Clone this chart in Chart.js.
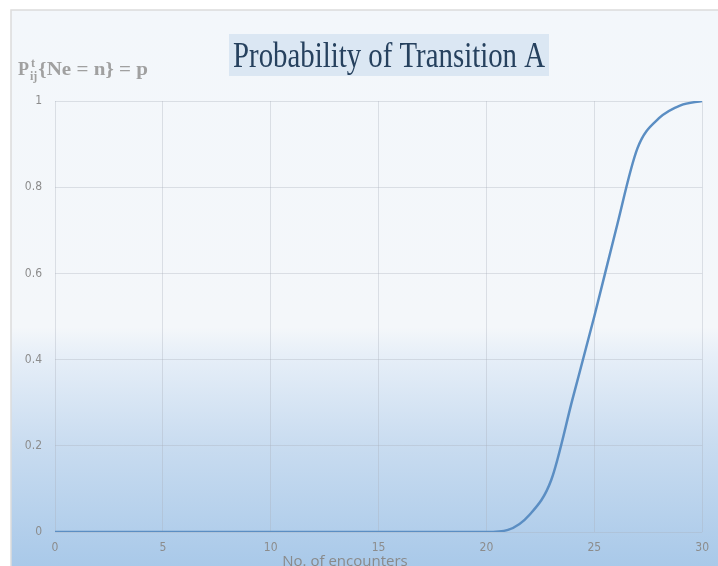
<!DOCTYPE html>
<html>
<head>
<meta charset="utf-8">
<title>Probability of Transition A</title>
<script src="https://cdn.jsdelivr.net/npm/chart.js@4"></script>
<style>
  html, body { margin: 0; padding: 0; background: #ffffff; }
  #wrap { width: 718px; height: 566px; }
</style>
</head>
<body>
<div id="wrap"><canvas id="myChart" width="718" height="566"></canvas></div>
<script>
// number of encounters and probability
var encounters = [0, 1, 2, 3, 4, 5, 6, 7, 8, 9, 10, 11, 12, 13, 14, 15,
                  16, 17, 18, 19, 20, 21, 22, 23, 24, 25, 26, 27, 28, 29, 30];
var probability = [0, 0, 0, 0, 0, 0, 0, 0, 0, 0, 0, 0, 0, 0, 0, 0,
                   0, 0, 0, 0, 0, 0.005, 0.04, 0.12, 0.31, 0.50, 0.70, 0.89, 0.96, 0.99, 1.0];
var xTicks = [0, 5, 10, 15, 20, 25, 30];
var yTicks = [0, 0.2, 0.4, 0.6, 0.8, 1];

var chartTitle = 'Probability of Transition A';
var xTitle = 'No. of encounters';

var points = [];
for (var i = 0; i < encounters.length; i++) {
    points.push({ x: encounters[i], y: probability[i] });
}

var tickFont = "'DejaVu Sans Condensed', 'Liberation Sans Narrow', 'Liberation Sans', sans-serif";

// background panel with gradient, like the office chart area
var panelPlugin = {
    id: 'panel',
    beforeDraw: function (chart) {
        var ctx = chart.ctx;
        ctx.save();
        var g = ctx.createLinearGradient(0, 10, 0, 566);
        g.addColorStop(0, '#f3f7fb');
        g.addColorStop(0.57, '#f4f7fa');
        g.addColorStop(0.62, '#e7eff8');
        g.addColorStop(0.78, '#c9dcf0');
        g.addColorStop(1, '#a9c9e9');
        ctx.fillStyle = g;
        ctx.fillRect(11, 10, 718 - 11, 566 - 10);
        ctx.strokeStyle = '#dcdcdc';
        ctx.lineWidth = 1.5;
        ctx.beginPath();
        ctx.moveTo(11, 566);
        ctx.lineTo(11, 10);
        ctx.lineTo(718, 10);
        ctx.stroke();
        ctx.restore();
    }
};

// title box, y label and x title
var textPlugin = {
    id: 'texts',
    afterDraw: function (chart) {
        var ctx = chart.ctx;
        ctx.save();

        // title with its light box
        ctx.fillStyle = '#dbe7f3';
        ctx.fillRect(229, 34, 320, 42);
        ctx.font = "35px 'Liberation Serif', 'DejaVu Serif', serif";
        var w = ctx.measureText(chartTitle).width;
        var target = 312;
        ctx.translate(233, 67);
        ctx.scale(target / w, 1);
        ctx.fillStyle = '#26415e';
        ctx.textBaseline = 'alphabetic';
        ctx.fillText(chartTitle, 0, 0);
        ctx.setTransform(1, 0, 0, 1, 0, 0);

        // y label P_ij^t{Ne = n} = p
        ctx.fillStyle = '#a0a0a0';
        ctx.textBaseline = 'alphabetic';
        var x = 18, base = 75;
        ctx.font = "bold 18px 'Liberation Serif', 'DejaVu Serif', serif";
        ctx.fillText('P', x, base);
        x += ctx.measureText('P').width + 1;
        ctx.font = "bold 12px 'Liberation Serif', 'DejaVu Serif', serif";
        ctx.fillText('t', x + 1, base - 8);
        ctx.fillText('ij', x, base + 5);
        x += ctx.measureText('ij').width + 1;
        ctx.font = "bold 18px 'Liberation Serif', 'DejaVu Serif', serif";
        var rest = '{Ne = n} = p';
        var rw = ctx.measureText(rest).width;
        ctx.translate(x, base);
        ctx.scale((148 - x) / rw, 1);
        ctx.fillText(rest, 0, 0);
        ctx.setTransform(1, 0, 0, 1, 0, 0);

        // x axis title, cut by the bottom edge
        ctx.font = "15px 'Open Sans', 'Liberation Sans', sans-serif";
        ctx.fillStyle = '#8a8a8a';
        ctx.textAlign = 'center';
        ctx.fillText(xTitle, 345, 566);
        ctx.restore();
    }
};

var ctx = document.getElementById('myChart').getContext('2d');
var myChart = new Chart(ctx, {
    type: 'line',
    data: {
        datasets: [{
            data: points,
            borderColor: '#5b8ec3',
            borderWidth: 2.5,
            pointRadius: 0,
            fill: false,
            cubicInterpolationMode: 'monotone'
        }]
    },
    options: {
        responsive: false,
        animation: false,
        layout: { padding: { left: 0, right: 10, top: 101, bottom: 0 } },
        plugins: {
            legend: { display: false },
            tooltip: { enabled: false },
            title: { display: false }
        },
        scales: {
            x: {
                type: 'linear',
                min: 0,
                max: 30,
                afterBuildTicks: function (scale) {
                    scale.ticks = xTicks.map(function (v) { return { value: v }; });
                },
                afterFit: function (scale) { scale.height = 34; },
                border: { display: false },
                grid: { color: 'rgba(170,175,185,0.35)', drawTicks: false, lineWidth: 1 },
                ticks: {
                    padding: 9,
                    color: '#8c8c8c',
                    font: { family: tickFont, size: 12 },
                    maxRotation: 0
                }
            },
            y: {
                min: 0,
                max: 1,
                afterBuildTicks: function (scale) {
                    scale.ticks = yTicks.map(function (v) { return { value: v }; });
                },
                afterFit: function (scale) { scale.width = 55; },
                border: { display: false },
                grid: { color: 'rgba(170,175,185,0.35)', drawTicks: false, lineWidth: 1 },
                ticks: {
                    padding: 13,
                    color: '#8c8c8c',
                    font: { family: tickFont, size: 12 },
                    callback: function (v) { return String(v); }
                }
            }
        }
    },
    plugins: [panelPlugin, textPlugin]
});
</script>
</body>
</html>
